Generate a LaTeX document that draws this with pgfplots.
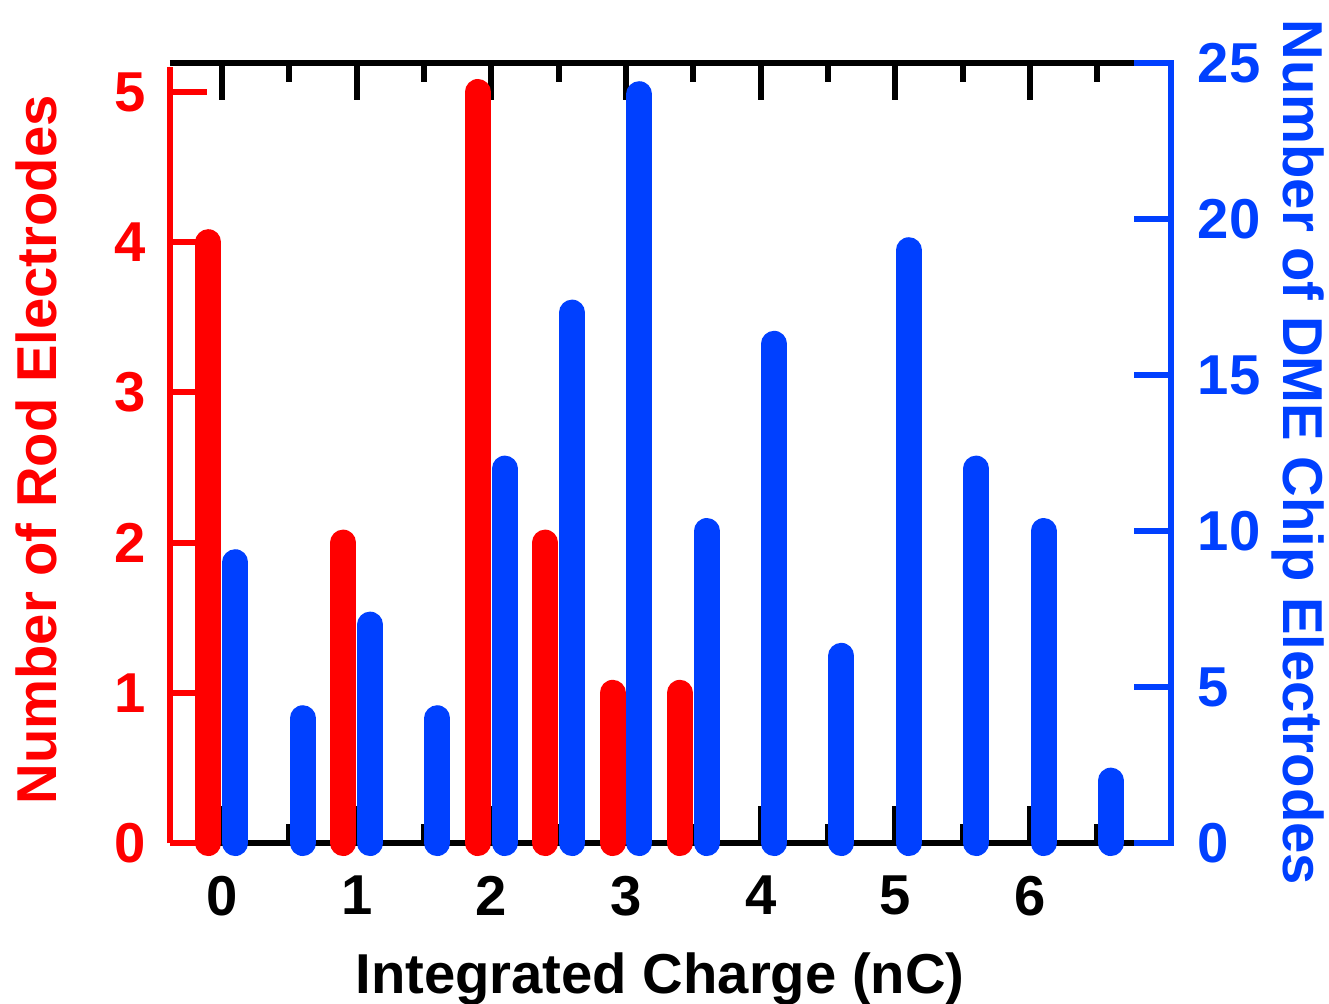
\documentclass[border=0pt]{standalone}
\usepackage{fontspec}
\setmainfont{Liberation Sans}
\usepackage{pgfplots}
\pgfplotsset{compat=1.18}
\definecolor{dmeblue}{RGB}{0,64,255}
\newcommand\lbl{\fontsize{16}{19}\selectfont\bfseries}

\pgfplotsset{
  base/.style={
    scale only axis, width=100.1mm, height=78mm,
    xmin=-0.386, xmax=7.047, clip=false,
    axis line style={draw=none},
    major tick length=3.7mm, minor tick length=1.9mm,
    /pgf/number format/assume math mode=true,
    ticklabel style={font=\lbl, inner sep=0pt},
    label style={font=\lbl},
  },
}

\begin{document}
\begin{tikzpicture}
% x axis, frame lines
\begin{axis}[base, ymin=0, ymax=1, ytick=\empty,
  xtick={0,...,6}, minor xtick={0.5,1.5,...,6.5},
  tick style={black, line width=0.6mm},
  xticklabel style={yshift=-3.2mm},
  xlabel={Integrated Charge (nC)},
  xlabel style={at={(axis description cs:0.4895,-0.1923)}, anchor=base},
]
\draw[red, line width=0.6mm] (rel axis cs:0,0) -- (rel axis cs:0,0.995);
\draw[dmeblue, line width=0.6mm] (rel axis cs:0.964,0) -- (rel axis cs:1,0) -- (rel axis cs:1,1) -- (rel axis cs:0.964,1);
\draw[black, line width=0.6mm] (rel axis cs:0,0) -- (rel axis cs:0.964,0);
\draw[black, line width=0.6mm] (rel axis cs:0,1) -- (rel axis cs:0.964,1);
\coordinate (bbl) at (rel axis cs:-0.1698,-0.2051);
\coordinate (btr) at (rel axis cs:1.1578,1.0808);
\end{axis}

% rod electrodes, left axis
\begin{axis}[base, ymin=0, ymax=5.193, xtick=\empty,
  ytick={0,...,5}, ytick pos=left,
  tick style={red, line width=0.6mm},
  yticklabel style={red, xshift=-2.3mm},
  ylabel={Number of Rod Electrodes},
  ylabel style={red, at={(axis description cs:-0.1129,0.504)}, anchor=base},
]
\addplot[ycomb, red, line width=2.6mm, line cap=round, no markers]
  coordinates {(-0.1,4) (0.9,2) (1.9,5) (2.4,2) (2.9,1) (3.4,1)};
\end{axis}

% DME chip electrodes, right axis
\begin{axis}[base, ymin=0, ymax=25, xtick=\empty,
  ytick={0,5,...,25}, ytick pos=right,
  tick style={dmeblue, line width=0.6mm},
  yticklabel style={dmeblue, xshift=2.6mm},
  ylabel={Number of DME Chip Electrodes},
  ylabel style={dmeblue, at={(axis description cs:1.112,0.501)}, anchor=base, rotate=180},
]
\addplot[ycomb, dmeblue, line width=2.6mm, line cap=round, no markers]
  coordinates {(0.1,9) (0.6,4) (1.1,7) (1.6,4) (2.1,12) (2.6,17) (3.1,24)
               (3.6,10) (4.1,16) (4.6,6) (5.1,19) (5.6,12) (6.1,10) (6.6,2)};
\end{axis}

\pgfresetboundingbox
\path (bbl) rectangle (btr);
\end{tikzpicture}
\end{document}
